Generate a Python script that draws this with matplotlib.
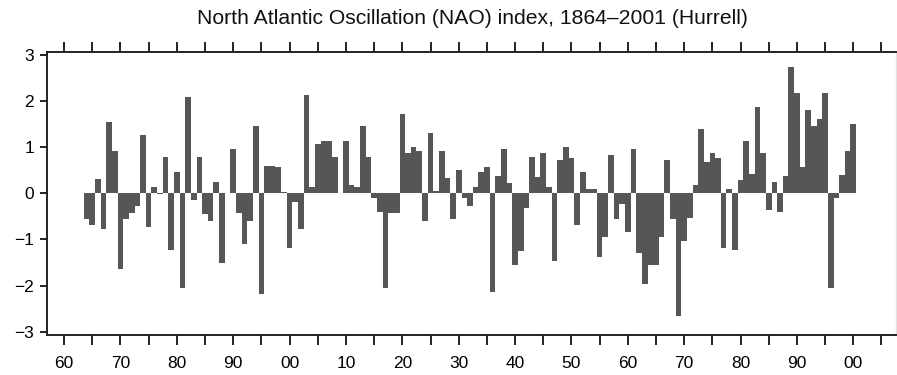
import numpy as np
import matplotlib
matplotlib.use("Agg")
import matplotlib.pyplot as plt
from matplotlib.ticker import MultipleLocator, FixedLocator

first_year = 1864
nao_index = [
    -0.56, -0.69, 0.30, -0.77, 1.55, 0.92, -1.65, -0.56, -0.43, -0.27,   # 1864-1873
    1.26, -0.74, 0.14, -0.02, 0.79, -1.23, 0.47, -2.06, 2.09, -0.14,     # 1874-1883
    0.79, -0.45, -0.60, 0.25, -1.52, 0.00, 0.97, -0.43, -1.09, -0.60,    # 1884-1893
    1.46, -2.18, 0.59, 0.59, 0.56, 0.02, -1.19, -0.18, -0.77, 2.13,      # 1894-1903
    0.14, 1.08, 1.13, 1.13, 0.79, 0.00, 1.13, 0.18, 0.14, 1.47,          # 1904-1913
    0.79, -0.11, -0.40, -2.06, -0.43, -0.43, 1.71, 0.88, 1.01, 0.92,     # 1914-1923
    -0.61, 1.30, 0.04, 0.92, 0.34, -0.56, 0.51, -0.11, -0.27, 0.14,      # 1924-1933
    0.47, 0.56, -2.14, 0.38, 0.97, 0.22, -1.56, -1.26, -0.31, 0.79,      # 1934-1943
    0.35, 0.88, 0.14, -1.47, 0.72, 1.01, 0.76, -0.69, 0.47, 0.09,        # 1944-1953
    0.09, -1.39, -0.94, 0.84, -0.56, -0.23, -0.84, 0.97, -1.30, -1.97,   # 1954-1963
    -1.56, -1.56, -0.94, 0.72, -0.56, -2.67, -1.03, -0.53, 0.18, 1.39,   # 1964-1973
    0.67, 0.88, 0.76, -1.19, 0.09, -1.23, 0.29, 1.13, 0.42, 1.88,        # 1974-1983
    0.88, -0.36, 0.25, -0.40, 0.38, 2.74, 2.17, 0.56, 1.81, 1.47,        # 1984-1993
    1.62, 2.17, -2.06, -0.11, 0.39, 0.92, 1.50,                          # 1994-2000
]
years = np.arange(first_year, first_year + len(nao_index))

xtick_years = [1860, 1870, 1880, 1890, 1900, 1910, 1920, 1930,
               1940, 1950, 1960, 1970, 1980, 1990, 2000]
xtick_labels = ["60", "70", "80", "90", "00", "10", "20", "30",
                "40", "50", "60", "70", "80", "90", "00"]
ytick_values = [-3, -2, -1, 0, 1, 2, 3]
ytick_labels = ["\u22123", "\u22122", "\u22121", "0", "1", "2", "3"]
title = "North Atlantic Oscillation (NAO) index, 1864\u20132001 (Hurrell)"

plt.rcParams['font.family'] = ['Liberation Sans', 'DejaVu Sans']

fig = plt.figure(figsize=(8.97, 3.75), dpi=100)
ax = fig.add_axes([0.052, 0.107, 0.947, 0.755])

ax.bar(years, nao_index, width=1.0, color="#565656", linewidth=0, align="center")

ax.set_xlim(1856.9, 2007.6)
ax.set_ylim(-3.07, 3.07)

ax.xaxis.set_major_locator(FixedLocator(xtick_years))
ax.set_xticklabels(xtick_labels)
ax.xaxis.set_minor_locator(MultipleLocator(5))
ax.set_yticks(ytick_values)
ax.set_yticklabels(ytick_labels)

ax.tick_params(axis="x", which="both", direction="out", length=7, width=1.4,
               top=True, bottom=True, labeltop=False, labelsize=12.5, pad=8,
               color="#222222")
ax.tick_params(axis="y", which="both", direction="out", length=5, width=1.4,
               left=True, right=False, labelsize=12.5, pad=4, color="#222222")

for side in ["left", "bottom", "top"]:
    ax.spines[side].set_linewidth(1.4)
    ax.spines[side].set_color("#222222")
ax.spines["right"].set_linewidth(1.0)
ax.spines["right"].set_color("#e2e2e2")

fig.text(0.527, 0.952, title, ha="center", va="center", fontsize=15.2, color="#111111")

fig.savefig("out.png", dpi=100)
